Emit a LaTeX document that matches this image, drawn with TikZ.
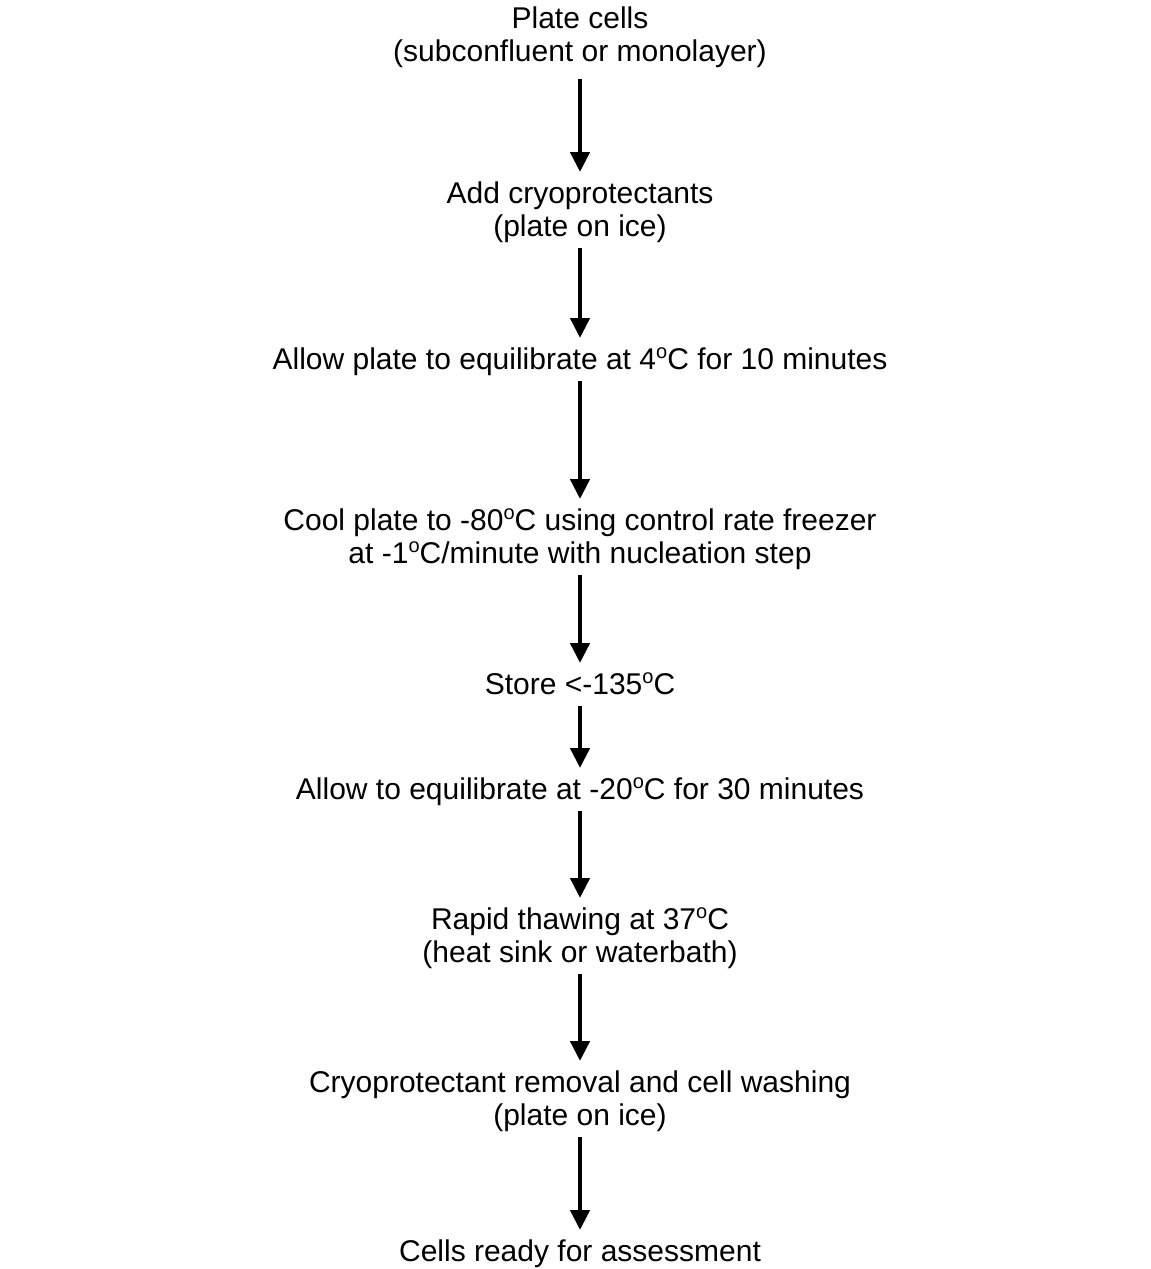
\documentclass[tikz,border=0pt]{standalone}
\usepackage{fontspec}
\setmainfont{Liberation Sans}
\usetikzlibrary{arrows.meta}
\newcommand\supo{\raisebox{0.36em}{\fontsize{20}{20}\selectfont o}}
\newcommand\ls{\rule[-7pt]{0pt}{31pt}}
\tikzset{
  stepbox/.style={anchor=north, inner sep=0pt, align=center,
    font=\fontsize{30}{33}\selectfont},
  arr/.style={line width=4.5pt, -{Triangle[width=19pt,length=20pt]},
    shorten <=5pt, shorten >=7pt}
}
\begin{document}
\begin{tikzpicture}[x=1pt,y=1pt]
\useasboundingbox (0,0) rectangle (1151,-1269);
\fill[white] (0,0) rectangle (1151,-1269);
\def\cx{580}
\node[stepbox] (n1) at (\cx,{-(28-24)}) {\ls Plate cells\\\ls (subconfluent or monolayer)};
\node[stepbox] (n2) at (\cx,{-(203-24)}) {\ls Add cryoprotectants\\\ls (plate on ice)};
\node[stepbox] (n3) at (\cx,{-(369-24)}) {\ls Allow plate to equilibrate at 4\supo C for 10 minutes};
\node[stepbox] (n4) at (\cx,{-(530-24)}) {\ls Cool plate to -80\supo C using control rate freezer\\\ls at -1\supo C/minute with nucleation step};
\node[stepbox] (n5) at (\cx,{-(694-24)}) {\ls Store {<}-135\supo C};
\node[stepbox] (n6) at (\cx,{-(799-24)}) {\ls Allow to equilibrate at -20\supo C for 30 minutes};
\node[stepbox] (n7) at (\cx,{-(929-24)}) {\ls Rapid thawing at 37\supo C\\\ls (heat sink or waterbath)};
\node[stepbox] (n8) at (\cx,{-(1092-24)}) {\ls Cryoprotectant removal and cell washing\\\ls (plate on ice)};
\node[stepbox] (n9) at (\cx,{-(1261-24)}) {\ls Cells ready for assessment};
\draw[arr, shorten <=11pt] (n1.south) -- (n2.north);
\draw[arr] (n2.south) -- (n3.north);
\draw[arr] (n3.south) -- (n4.north);
\draw[arr] (n4.south) -- (n5.north);
\draw[arr] (n5.south) -- (n6.north);
\draw[arr] (n6.south) -- (n7.north);
\draw[arr] (n7.south) -- (n8.north);
\draw[arr] (n8.south) -- (n9.north);
\end{tikzpicture}
\end{document}
